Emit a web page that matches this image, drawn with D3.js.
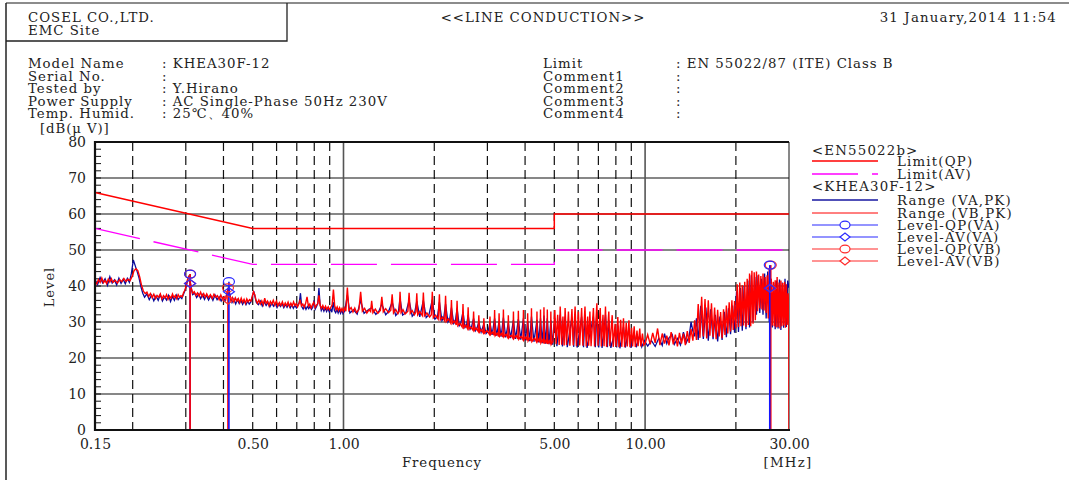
<!DOCTYPE html>
<html>
<head>
<meta charset="utf-8">
<script src="https://cdn.jsdelivr.net/npm/d3@7"></script>
<style>
body { margin: 0; background: #fff; }
svg text { font-family: "DejaVu Serif", serif; fill: #222; }
</style>
</head>
<body>
<div id="chart"></div>
<script>
// axis values
var xTicks = [0.15, 0.5, 1, 5, 10, 30];
var xTickLabels = ["0.15", "0.50", "1.00", "5.00", "10.00", "30.00"];
var xDashed = [0.2, 0.3, 0.4, 0.5, 0.6, 0.7, 0.8, 0.9, 2, 3, 4, 5, 6, 7, 8, 9, 20];
var xSolid = [1, 10];
var yTicks = [0, 10, 20, 30, 40, 50, 60, 70, 80];

// EN55022 class B limits [MHz, dBuV]
var limitQP = [[0.15, 66], [0.5, 56], [5, 56], [5, 60], [30, 60]];
var limitAV = [[0.15, 56], [0.5, 46], [5, 46], [5, 50], [30, 50]];

// peak scan, line VA (blue)
var rangeVA = [
  [0.150,41.8],[0.153,40.4],[0.156,42.4],[0.159,40.9],[0.162,42.0],[0.165,40.2],[0.168,42.6],[0.171,40.8],[0.174,41.7],[0.177,40.3],
  [0.180,42.2],[0.183,40.7],[0.186,41.9],[0.189,40.6],[0.192,42.1],[0.195,41.0],[0.198,43.5],[0.201,47.2],[0.204,45.6],[0.207,44.0],
  [0.210,42.2],[0.213,39.8],[0.216,38.0],[0.219,36.9],[0.223,37.8],[0.227,36.2],[0.231,37.5],[0.235,35.9],[0.239,37.2],[0.243,36.0],
  [0.247,37.6],[0.251,35.8],[0.255,37.0],[0.259,36.1],[0.263,37.4],[0.267,35.7],[0.271,37.1],[0.275,36.0],[0.279,37.5],[0.283,36.2],
  [0.287,37.0],[0.291,36.5],[0.295,37.8],[0.299,39.0],[0.303,41.0],[0.306,42.5],[0.309,41.8],[0.312,39.8],[0.316,37.6],[0.321,38.0],
  [0.326,36.8],[0.331,37.8],[0.336,36.5],[0.341,37.6],[0.346,36.3],[0.351,37.4],[0.357,36.1],[0.363,37.3],[0.369,36.0],[0.375,37.5],
  [0.381,36.2],[0.387,37.0],[0.393,35.8],[0.399,36.9],[0.405,35.9],[0.410,37.8],[0.416,39.6],[0.421,37.2],[0.427,35.4],[0.433,36.4],
  [0.439,35.0],[0.445,36.2],[0.451,35.1],[0.457,36.0],[0.463,34.9],[0.469,35.9],[0.475,34.8],[0.481,35.8],[0.487,35.0],[0.493,35.6],
  [0.499,37.2],[0.504,38.6],[0.509,37.0],[0.514,35.4],[0.522,34.8],[0.530,35.8],[0.538,34.4],[0.546,35.6],[0.554,34.6],[0.562,35.4],
  [0.570,34.2],[0.578,35.3],[0.586,34.4],[0.594,35.2],[0.602,34.0],[0.610,35.0],[0.618,34.3],[0.626,35.1],[0.634,34.0],[0.642,34.9],
  [0.650,34.1],[0.658,35.0],[0.666,33.9],[0.674,34.8],[0.682,33.8],[0.690,34.6],[0.698,33.9],[0.706,34.7],[0.714,35.5],[0.720,38.0],
  [0.727,34.3],[0.735,33.6],[0.743,34.5],[0.751,33.5],[0.759,34.3],[0.767,33.7],[0.775,34.4],[0.783,33.5],[0.791,34.1],[0.799,36.0],
  [0.806,33.6],[0.814,34.3],[0.822,35.2],[0.829,39.4],[0.836,35.0],[0.844,33.2],[0.852,34.0],[0.861,33.0],[0.870,33.9],[0.879,32.9],
  [0.888,33.8],[0.897,32.8],[0.906,33.7],[0.915,32.7],[0.924,35.5],[0.933,33.2],[0.942,32.6],[0.951,33.5],[0.960,32.5],[0.969,33.4],
  [0.978,32.4],[0.987,33.3],[0.996,32.3],[1.01,33.2],[1.03,37.5],[1.05,32.5],[1.08,33.4],[1.11,32.2],[1.14,36.0],[1.17,32.4],
  [1.20,33.2],[1.24,34.0],[1.28,32.1],[1.31,33.0],[1.34,35.0],[1.38,32.0],[1.41,32.9],[1.45,35.5],[1.49,31.8],[1.52,32.7],
  [1.54,36.5],[1.57,31.9],[1.61,32.6],[1.65,36.0],[1.69,31.6],[1.72,32.4],[1.75,35.8],[1.79,31.4],[1.84,36.0],[1.88,31.2],
  [1.92,32.0],[1.97,36.2],[2.01,30.8],[2.05,31.5],[2.08,35.5],[2.12,30.4],[2.15,31.2],[2.18,35.0],[2.22,30.0],[2.25,30.8],
  [2.28,34.0],[2.32,29.6],[2.35,30.3],[2.38,33.8],[2.42,29.0],[2.45,29.8],[2.49,32.8],[2.53,28.5],[2.56,29.2],[2.59,32.0],
  [2.63,28.0],[2.66,28.8],[2.70,31.0],[2.74,27.6],[2.77,28.3],[2.81,30.0],[2.86,27.2],[2.92,29.5],[2.97,26.8],[3.02,27.6],
  [3.06,29.8],[3.11,26.4],[3.17,31.0],[3.22,26.2],[3.28,30.2],[3.33,25.9],[3.39,31.2],[3.45,25.7],[3.52,29.8],[3.58,25.5],
  [3.66,30.5],[3.72,25.3],[3.80,30.8],[3.87,25.1],[3.95,31.0],[4.01,24.9],[4.08,30.2],[4.14,24.7],[4.20,31.5],[4.28,24.5],
  [4.38,30.6],[4.44,24.3],[4.50,31.0],[4.56,24.1],[4.62,31.8],[4.68,24.0],[4.74,31.0],[4.80,23.8],[4.87,30.5],[4.94,23.7],
  [5.02,31.0],[5.10,23.3],[5.23,32.0],[5.32,23.2],[5.43,31.5],[5.52,23.0],[5.72,31.2],[5.80,23.1],[5.86,32.0],[5.95,22.9],
  [6.16,31.5],[6.25,23.0],[6.32,32.0],[6.42,22.8],[6.74,31.5],[6.84,23.0],[6.92,32.8],[7.02,22.9],[7.10,31.5],[7.20,22.8],
  [7.39,32.0],[7.50,23.0],[7.58,30.5],[7.70,22.8],[7.95,27.5],[8.05,22.9],[8.12,29.0],[8.25,22.7],[8.48,28.6],[8.60,22.9],
  [8.84,28.2],[8.98,22.8],[9.20,26.8],[9.35,23.0],[9.60,26.2],[9.75,23.1],[9.95,24.8],[10.2,23.3],[10.5,24.8],[10.8,23.2],
  [11.1,25.5],[11.4,23.5],[11.6,26.8],[11.8,24.0],[12.0,25.6],[12.3,26.5],[12.5,23.8],[12.8,25.4],[13.1,23.6],[13.4,27.2],
  [13.7,24.3],[14.0,26.0],[14.2,30.0],[14.4,27.5],[14.6,26.0],[14.8,31.0],[15.0,25.0],[15.3,34.5],[15.6,25.3],[15.9,34.0],
  [16.2,24.8],[16.5,33.5],[16.8,25.2],[17.1,32.0],[17.4,24.6],[17.7,31.5],[18.0,25.0],[18.3,32.8],[18.6,25.8],[18.9,33.8],
  [19.2,26.6],[19.5,34.6],[19.8,27.0],[20.1,38.5],[20.4,27.2],[20.7,39.5],[21.0,27.6],[21.3,40.0],[21.6,28.0],[21.9,41.5],
  [22.2,28.5],[22.5,43.0],[22.8,30.0],[23.1,42.5],[23.4,32.0],[23.7,43.0],[24.0,32.5],[24.3,42.0],[24.6,32.0],[24.9,43.5],
  [25.2,31.0],[25.5,44.0],[25.8,30.0],[26.1,42.0],[26.4,28.5],[26.7,41.0],[27.0,28.0],[27.3,41.5],[27.6,28.2],[27.9,41.8],
  [28.2,27.8],[28.5,41.0],[28.8,28.4],[29.1,42.0],[29.4,28.6],[29.7,41.5],[30.0,39.5]
];

// peak scan, line VB (red)
var rangeVB = [
  [0.150,41.2],[0.152,40.6],[0.154,41.8],[0.156,41.0],[0.158,42.2],[0.160,40.9],[0.162,41.5],[0.164,40.7],[0.166,41.9],[0.168,41.1],
  [0.170,42.0],[0.172,41.0],[0.175,41.6],[0.178,40.8],[0.181,41.8],[0.184,41.2],[0.187,42.1],[0.190,41.3],[0.193,41.9],[0.196,41.5],
  [0.199,42.6],[0.202,44.2],[0.205,44.8],[0.208,44.3],[0.211,42.5],[0.214,40.2],[0.217,38.6],[0.220,37.9],[0.223,38.3],[0.226,37.1],
  [0.229,37.9],[0.232,36.8],[0.235,37.7],[0.238,36.5],[0.241,37.4],[0.244,36.9],[0.247,37.8],[0.250,36.4],[0.253,37.3],[0.256,36.7],
  [0.259,37.6],[0.262,36.3],[0.265,37.2],[0.268,36.6],[0.271,37.8],[0.274,36.8],[0.277,37.4],[0.280,36.5],[0.283,37.6],[0.286,36.9],
  [0.289,37.3],[0.292,37.0],[0.295,38.2],[0.298,38.8],[0.301,40.2],[0.304,41.8],[0.307,42.6],[0.310,41.5],[0.313,39.4],[0.316,38.0],
  [0.320,38.4],[0.324,37.4],[0.328,38.1],[0.332,37.2],[0.336,38.3],[0.340,37.1],[0.344,37.9],[0.348,36.9],[0.352,37.8],[0.357,36.8],
  [0.362,37.6],[0.367,36.6],[0.372,37.7],[0.377,36.9],[0.382,37.3],[0.387,36.2],[0.392,37.5],[0.397,36.4],[0.402,37.0],[0.407,36.3],
  [0.411,38.0],[0.415,39.2],[0.419,37.8],[0.423,36.0],[0.428,36.8],[0.433,35.6],[0.438,36.7],[0.443,35.8],[0.448,36.5],[0.453,35.4],
  [0.458,36.6],[0.463,35.5],[0.468,36.3],[0.473,35.2],[0.478,36.4],[0.483,35.6],[0.488,36.2],[0.493,35.8],[0.498,37.0],[0.503,38.4],
  [0.508,37.6],[0.513,36.0],[0.518,35.2],[0.524,36.1],[0.530,35.0],[0.536,35.9],[0.542,34.8],[0.548,36.6],[0.554,35.2],[0.560,35.8],
  [0.566,34.6],[0.572,35.7],[0.578,34.9],[0.585,36.0],[0.592,34.7],[0.599,35.8],[0.606,34.5],[0.613,35.4],[0.620,34.6],[0.627,35.6],
  [0.634,34.4],[0.641,35.3],[0.648,34.5],[0.655,35.5],[0.662,34.3],[0.669,35.2],[0.676,34.4],[0.683,35.6],[0.690,34.6],[0.697,35.1],
  [0.704,34.2],[0.711,35.0],[0.718,36.2],[0.725,34.5],[0.733,35.0],[0.741,34.1],[0.749,35.2],[0.757,37.0],[0.765,34.4],[0.773,35.0],
  [0.781,33.9],[0.789,34.8],[0.797,35.5],[0.805,34.0],[0.813,34.7],[0.821,35.0],[0.829,37.4],[0.837,34.6],[0.845,33.8],[0.854,34.6],
  [0.863,33.6],[0.872,34.4],[0.881,33.5],[0.890,34.2],[0.899,33.4],[0.908,34.1],[0.917,34.8],[0.926,39.0],[0.935,34.5],[0.944,33.4],
  [0.953,34.2],[0.962,33.2],[0.971,34.0],[0.980,33.0],[0.989,33.8],[0.998,32.9],[1.007,33.9],[1.018,33.0],[1.030,39.6],[1.042,33.2],
  [1.060,34.0],[1.075,32.8],[1.090,33.9],[1.105,32.6],[1.125,33.5],[1.140,38.4],[1.155,33.0],[1.175,33.8],[1.195,32.5],[1.215,33.4],
  [1.230,32.9],[1.240,35.9],[1.252,32.6],[1.275,33.6],[1.300,32.4],[1.325,33.2],[1.340,37.0],[1.355,32.8],[1.380,33.7],[1.410,32.6],
  [1.435,33.3],[1.450,37.7],[1.465,32.5],[1.490,33.5],[1.515,32.3],[1.530,33.0],[1.540,38.4],[1.552,32.6],[1.575,33.4],[1.600,32.2],
  [1.635,33.0],[1.650,38.1],[1.665,32.4],[1.690,33.2],[1.720,32.0],[1.738,32.8],[1.750,38.0],[1.762,32.0],[1.790,32.9],[1.825,31.8],
  [1.840,38.2],[1.855,31.7],[1.890,32.5],[1.930,31.4],[1.955,32.0],[1.970,38.4],[1.985,31.2],[2.020,31.9],[2.060,30.8],[2.080,37.7],
  [2.095,30.6],[2.130,31.4],[2.165,30.3],[2.180,37.3],[2.195,30.2],[2.230,30.9],[2.265,29.8],[2.280,36.1],[2.295,29.6],[2.330,30.3],
  [2.365,29.2],[2.380,35.9],[2.395,29.0],[2.430,29.6],[2.475,28.6],[2.490,35.0],[2.505,28.4],[2.540,29.1],[2.575,28.2],[2.590,34.1],
  [2.605,28.0],[2.640,28.6],[2.685,27.8],[2.700,32.9],[2.715,27.6],[2.750,28.3],[2.795,27.4],[2.810,31.9],[2.825,27.2],[2.860,27.9],
  [2.905,27.0],[2.920,31.0],[2.935,26.9],[2.990,27.6],[3.045,26.6],[3.060,31.5],[3.075,26.5],[3.120,27.2],[3.155,26.3],[3.170,33.3],
  [3.185,26.2],[3.230,26.9],[3.265,26.0],[3.280,32.4],[3.295,26.1],[3.340,26.8],[3.375,25.8],[3.390,33.5],[3.405,25.9],[3.460,26.6],
  [3.505,25.7],[3.520,31.9],[3.535,25.6],[3.600,26.3],[3.645,25.5],[3.660,32.9],[3.675,25.4],[3.740,26.2],[3.785,25.3],[3.800,33.1],
  [3.815,25.2],[3.880,26.0],[3.935,25.1],[3.950,33.3],[3.965,25.0],[4.020,25.8],[4.065,24.9],[4.080,32.4],[4.095,24.8],[4.150,25.6],
  [4.185,24.7],[4.200,33.8],[4.215,24.6],[4.300,25.5],[4.365,24.5],[4.380,32.9],[4.395,24.4],[4.450,25.3],[4.485,24.3],[4.500,33.5],
  [4.515,24.2],[4.570,25.0],[4.605,24.1],[4.620,34.1],[4.635,24.0],[4.690,24.9],[4.725,24.0],[4.740,33.5],[4.755,23.9],[4.810,24.7],
  [4.855,23.8],[4.870,32.9],[4.885,23.8],[4.950,24.6],[5.020,33.3],[5.070,23.8],[5.130,32.0],[5.190,23.6],[5.230,34.3],[5.290,23.7],
  [5.340,31.5],[5.390,23.5],[5.430,33.9],[5.490,23.6],[5.570,32.9],[5.630,23.4],[5.720,33.6],[5.780,23.5],[5.860,34.3],[5.920,23.3],
  [6.010,32.9],[6.070,23.5],[6.160,33.9],[6.220,23.4],[6.320,34.3],[6.380,23.2],[6.450,31.5],[6.500,23.4],[6.560,32.9],[6.620,23.3],
  [6.740,33.9],[6.800,23.2],[6.920,35.2],[6.980,23.4],[7.100,33.9],[7.160,23.2],[7.250,32.0],[7.310,23.3],[7.390,34.3],[7.450,23.1],
  [7.580,32.9],[7.640,23.3],[7.780,31.9],[7.840,23.1],[7.950,29.5],[8.020,23.2],[8.120,31.4],[8.190,23.0],[8.300,30.6],[8.370,23.1],
  [8.480,31.0],[8.550,23.0],[8.660,29.8],[8.730,23.2],[8.840,30.5],[8.910,23.0],[9.020,28.4],[9.090,23.2],[9.200,28.8],[9.280,23.1],
  [9.400,27.6],[9.480,23.3],[9.600,28.2],[9.680,23.2],[9.800,26.8],[9.900,23.6],[10.0,24.0],[10.2,26.5],[10.4,23.8],[10.6,27.0],
  [10.8,24.2],[11.0,28.2],[11.2,23.6],[11.4,26.8],[11.6,24.0],[11.8,26.2],[12.0,23.5],[12.2,27.2],[12.4,23.8],[12.6,26.5],
  [12.8,23.2],[13.0,27.0],[13.2,24.0],[13.4,26.8],[13.6,23.6],[13.8,27.5],[14.0,24.2],[14.2,28.0],[14.4,24.8],[14.6,30.5],
  [14.8,25.0],[15.0,35.0],[15.2,25.6],[15.4,37.0],[15.6,26.0],[15.8,36.4],[16.0,25.4],[16.2,36.0],[16.4,26.2],[16.6,35.2],
  [16.8,25.8],[17.0,34.0],[17.2,25.2],[17.4,33.4],[17.6,26.0],[17.8,32.8],[18.0,25.5],[18.2,33.5],[18.4,26.4],[18.6,34.6],
  [18.8,26.8],[19.0,35.5],[19.2,27.4],[19.4,36.0],[19.6,27.8],[19.8,35.8],[20.0,28.2],[20.2,40.5],[20.4,28.6],[20.6,41.0],
  [20.8,28.8],[21.0,40.2],[21.2,29.0],[21.4,41.2],[21.6,28.6],[21.8,42.0],[22.0,29.2],[22.2,43.5],[22.4,28.8],[22.6,44.2],
  [22.8,29.5],[23.0,43.8],[23.2,30.5],[23.4,44.0],[23.6,33.0],[23.8,43.2],[24.0,33.8],[24.2,42.8],[24.4,33.5],[24.6,43.5],
  [24.8,33.2],[25.0,42.5],[25.2,32.5],[25.4,43.0],[25.6,31.0],[25.8,44.8],[26.0,30.0],[26.2,42.0],[26.4,29.0],[26.6,41.2],
  [26.8,28.8],[27.0,41.6],[27.2,28.5],[27.4,42.5],[27.6,28.6],[27.8,41.0],[28.0,28.2],[28.2,41.5],[28.4,28.8],[28.6,40.8],
  [28.8,29.0],[29.0,41.2],[29.2,28.4],[29.4,40.5],[29.6,29.2],[29.8,38.0],[29.95,33.0],[30.0,0]
];

// final measurements [MHz, dBuV]
var qpVA = [[0.31, 43.3], [0.417, 41.2], [25.9, 45.8]];
var avVA = [[0.31, 40.7], [0.417, 38.4], [25.9, 39.4]];
var qpVB = [[0.31, 43.3], [0.414, 39.5], [26.1, 45.8]];
var avVB = [[0.31, 40.7], [0.414, 36.1], [26.1, 39.4]];
// stems in drawing order: [line, MHz, dBuV]
var stems = [["VA", 0.31, 43.3], ["VB", 0.31, 43.3], ["VB", 0.414, 39.5], ["VA", 0.417, 41.2], ["VB", 26.1, 45.8], ["VA", 25.9, 45.8]];

var blue = "#0a0a9c", red = "#ff0000", magenta = "#ff00ff",
    mBlue = "#2a2aff", mRed = "#ff2a2a";
var width = 1069, height = 480;

var svg = d3.select("#chart").append("svg").attr("width", width).attr("height", height);

// page frame and header
svg.append("line").attr("x1", 6).attr("x2", width).attr("y1", 3).attr("y2", 3).attr("stroke", "#666").attr("stroke-width", 1.5);
svg.append("line").attr("x1", 6).attr("x2", 6).attr("y1", 3).attr("y2", height).attr("stroke", "#222").attr("stroke-width", 1.5);
svg.append("path").attr("d", "M287,3V41H6").attr("fill", "none").attr("stroke", "#222").attr("stroke-width", 1.3);

var head = svg.append("g").style("font-size", "13.3px").style("letter-spacing", "1px");
head.append("text").attr("x", 28).attr("y", 22).text("COSEL CO.,LTD.");
head.append("text").attr("x", 28).attr("y", 35).text("EMC Site");
head.append("text").attr("x", 543).attr("y", 22).attr("text-anchor", "middle").text("<<LINE CONDUCTION>>");
head.append("text").attr("x", 1057).attr("y", 22).attr("text-anchor", "end").style("letter-spacing", "1.2px").text("31 January,2014 11:54");

var infoL = ["Model Name", "Serial No.", "Tested by", "Power Supply", "Temp. Humid."];
var infoLV = [": KHEA30F-12", ":", ": Y.Hirano", ": AC Single-Phase 50Hz 230V", ": 25℃、40%"];
var infoR = ["Limit", "Comment1", "Comment2", "Comment3", "Comment4"];
var infoRV = [": EN 55022/87 (ITE) Class B", ":", ":", ":", ":"];
infoL.forEach(function(t, i) {
  var yy = 68 + i * 12.5;
  head.append("text").attr("x", 28).attr("y", yy).text(t);
  head.append("text").attr("x", 162).attr("y", yy).text(infoLV[i]);
  head.append("text").attr("x", 543).attr("y", yy).text(infoR[i]);
  head.append("text").attr("x", 676).attr("y", yy).text(infoRV[i]);
});

// scales
var x = d3.scaleLog().domain([0.15, 30]).range([95, 789]);
var y = d3.scaleLinear().domain([0, 80]).range([430, 142]);

var plot = svg.append("g");
svg.append("clipPath").attr("id", "clip").append("rect")
  .attr("x", 95).attr("y", 142).attr("width", 694).attr("height", 288);

// grid
plot.selectAll(".hgrid").data(yTicks.slice(1)).enter().append("line")
  .attr("x1", 95).attr("x2", 789).attr("y1", y).attr("y2", y)
  .attr("stroke", "#111").attr("stroke-width", 1.2);
plot.selectAll(".vdash").data(xDashed).enter().append("line")
  .attr("x1", x).attr("x2", x).attr("y1", 142).attr("y2", 430)
  .attr("stroke", "#111").attr("stroke-width", 1.2).attr("stroke-dasharray", "9,5");
plot.selectAll(".vsolid").data(xSolid).enter().append("line")
  .attr("x1", x).attr("x2", x).attr("y1", 142).attr("y2", 430)
  .attr("stroke", "#555").attr("stroke-width", 1.6);
plot.append("line").attr("x1", 789).attr("x2", 789).attr("y1", 142).attr("y2", 430).attr("stroke", "#111").attr("stroke-width", 1);

// minor ticks on y axis
plot.selectAll(".ytick").data(y.ticks(40)).enter().append("line")
  .attr("x1", 95).attr("x2", 101).attr("y1", y).attr("y2", y)
  .attr("stroke", "#111").attr("stroke-width", 1);

var line = d3.line().x(function(d) { return x(d[0]); }).y(function(d) { return y(d[1]); });

// limits
plot.append("path").datum(limitQP).attr("d", line).attr("fill", "none").attr("stroke", red).attr("stroke-width", 1.5);
plot.append("path").datum(limitAV).attr("d", line).attr("fill", "none").attr("stroke", magenta)
  .attr("stroke-width", 1.3).attr("stroke-dasharray", "46,14");

// traces
var traces = plot.append("g").attr("clip-path", "url(#clip)");
traces.append("path").datum(rangeVA).attr("d", line).attr("fill", "none").attr("stroke", blue).attr("stroke-width", 1.3);
traces.append("path").datum(rangeVB).attr("d", line).attr("fill", "none").attr("stroke", red).attr("stroke-width", 1.4);

// stems
traces.selectAll(".stem").data(stems).enter().append("line")
  .attr("x1", function(d) { return x(d[1]); }).attr("x2", function(d) { return x(d[1]); })
  .attr("y1", function(d) { return y(d[2]); }).attr("y2", y(0))
  .attr("stroke", function(d) { return d[0] === "VA" ? "#1414ff" : red; }).attr("stroke-width", 1.6);

function circles(data, col) {
  plot.selectAll(null).data(data).enter().append("ellipse")
    .attr("cx", function(d) { return x(d[0]); }).attr("cy", function(d) { return y(d[1]); })
    .attr("rx", 5.5).attr("ry", 4).attr("fill", "none").attr("stroke", col).attr("stroke-width", 1.2);
}
function diamonds(data, col) {
  plot.selectAll(null).data(data).enter().append("path")
    .attr("d", function(d) {
      var cx = x(d[0]), cy = y(d[1]);
      return "M" + (cx - 5.5) + "," + cy + "L" + cx + "," + (cy - 4) + "L" + (cx + 5.5) + "," + cy + "L" + cx + "," + (cy + 4) + "Z";
    })
    .attr("fill", "none").attr("stroke", col).attr("stroke-width", 1.2);
}
circles(qpVB, mRed); diamonds(avVB, mRed);
circles(qpVA, mBlue); diamonds(avVA, mBlue);

// axes
plot.append("line").attr("x1", 95).attr("x2", 789).attr("y1", 142).attr("y2", 142).attr("stroke", "#111").attr("stroke-width", 2);
plot.append("line").attr("x1", 95).attr("x2", 95).attr("y1", 141).attr("y2", 431).attr("stroke", "#111").attr("stroke-width", 2.2);
plot.append("line").attr("x1", 94).attr("x2", 790).attr("y1", 430).attr("y2", 430).attr("stroke", "#111").attr("stroke-width", 2.2);

var yAxis = svg.append("g").attr("transform", "translate(95,0)")
  .call(d3.axisLeft(y).tickValues(yTicks).tickSize(0).tickPadding(9).tickFormat(d3.format("d")));
var xAxis = svg.append("g").attr("transform", "translate(0,430)")
  .call(d3.axisBottom(x).tickValues(xTicks).tickSize(0).tickPadding(9)
    .tickFormat(function(d, i) { return xTickLabels[i]; }));
[yAxis, xAxis].forEach(function(a) {
  a.select(".domain").remove();
  a.selectAll("text").style("font-size", "14px").style("font-family", "DejaVu Serif, serif").attr("fill", "#222");
});

svg.append("text").attr("x", 40).attr("y", 133).style("font-size", "13.3px").style("letter-spacing", "0.9px").text("[dB(μ V)]");
svg.append("text").attr("transform", "translate(54,287) rotate(-90)").attr("text-anchor", "middle")
  .style("font-size", "13px").style("letter-spacing", "1px").text("Level");
svg.append("text").attr("x", 442).attr("y", 467).attr("text-anchor", "middle").style("font-size", "13.3px")
  .style("letter-spacing", "0.9px").text("Frequency");
svg.append("text").attr("x", 788).attr("y", 467).attr("text-anchor", "middle").style("font-size", "13.3px")
  .style("letter-spacing", "1.3px").text("[MHz]");

// legend
var leg = svg.append("g").style("font-size", "13.3px").style("letter-spacing", "1.2px");
var legItems = [
  { label: "<EN55022b>", head: true },
  { label: "Limit(QP)", col: red, w: 1.5 },
  { label: "Limit(AV)", col: magenta, w: 1.3, dash: "46,14" },
  { label: "<KHEA30F-12>", head: true },
  { label: "Range (VA,PK)", col: "#5050b8", w: 1.8 },
  { label: "Range (VB,PK)", col: red, w: 1 },
  { label: "Level-QP(VA)", col: mBlue, w: 1.2, mark: "c" },
  { label: "Level-AV(VA)", col: mBlue, w: 1.2, mark: "d" },
  { label: "Level-QP(VB)", col: mRed, w: 1.2, mark: "c" },
  { label: "Level-AV(VB)", col: mRed, w: 1.2, mark: "d" }
];
var legY = [155, 166, 179, 191, 205, 218, 230, 242, 254, 266];
legItems.forEach(function(it, i) {
  var ty = legY[i];
  if (it.head) {
    leg.append("text").attr("x", 812).attr("y", ty).text(it.label);
    return;
  }
  var ly = ty - 5;
  leg.append("line").attr("x1", 812).attr("x2", 878).attr("y1", ly).attr("y2", ly)
    .attr("stroke", it.col).attr("stroke-width", it.w).attr("stroke-dasharray", it.dash || null);
  if (it.mark === "c") {
    leg.append("ellipse").attr("cx", 845).attr("cy", ly).attr("rx", 5).attr("ry", 3.8)
      .attr("fill", "#fff").attr("stroke", it.col).attr("stroke-width", 1.2);
  } else if (it.mark === "d") {
    leg.append("path").attr("d", "M840," + ly + "L845," + (ly - 4) + "L850," + ly + "L845," + (ly + 4) + "Z")
      .attr("fill", "#fff").attr("stroke", it.col).attr("stroke-width", 1.2);
  }
  leg.append("text").attr("x", 897).attr("y", ty).text(it.label);
});
</script>
</body>
</html>
